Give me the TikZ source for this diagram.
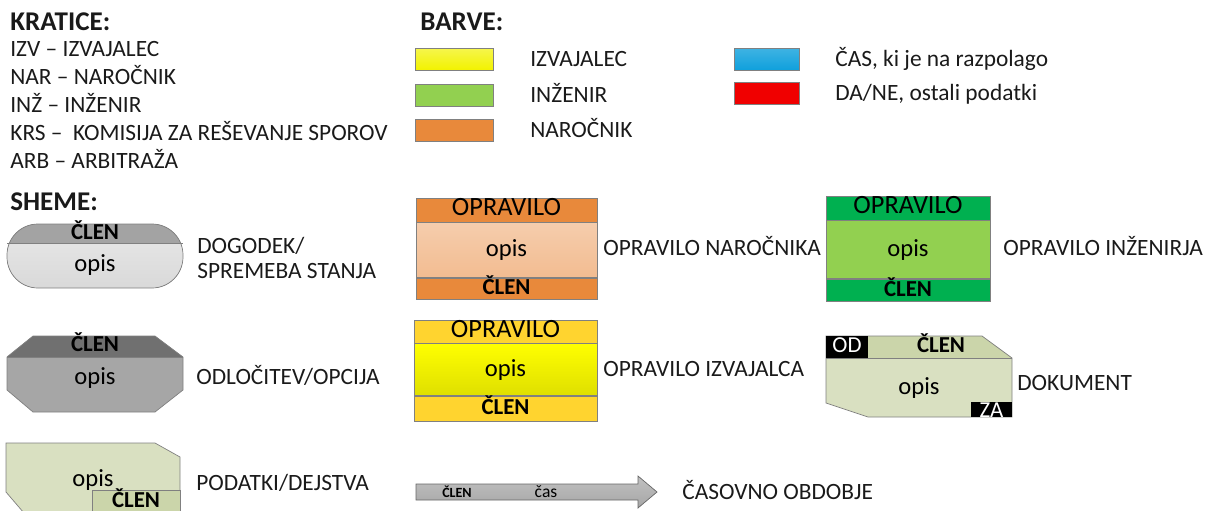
\documentclass[tikz,border=0pt]{standalone}
\usepackage{fontspec}
\setmainfont{Carlito}
\usepackage{tikz}
\usetikzlibrary{positioning}

\definecolor{izvband}{HTML}{FFD42F}
\definecolor{izvmid}{HTML}{F2F200}
\definecolor{injband}{HTML}{00B050}
\definecolor{injmid}{HTML}{92D050}
\definecolor{narband}{HTML}{E8893B}
\definecolor{narmid}{HTML}{F2BC91}
\definecolor{casblue}{HTML}{0FA0DC}
\definecolor{dared}{HTML}{F00000}
\definecolor{evtop}{HTML}{A3A3A3}
\definecolor{evbody}{HTML}{D9D9D9}
\definecolor{dectop}{HTML}{707070}
\definecolor{decbody}{HTML}{A6A6A6}
\definecolor{docfill}{HTML}{D9E0C1}
\definecolor{docband}{HTML}{CBD5AA}
\definecolor{edge}{HTML}{808080}
\definecolor{crnilo}{HTML}{1A1A1A}

\tikzstyle{naslov} = [font=\fontsize{15.4}{17}\selectfont\bfseries, text=crnilo, anchor=base west, inner sep=0pt]
\tikzstyle{besedilo} = [font=\fontsize{13.3}{15}\selectfont, text=crnilo, anchor=base west, inner sep=0pt]
\tikzstyle{barva} = [rectangle, draw=edge, minimum width=1.56cm, minimum height=0.44cm, inner sep=0pt]
\tikzstyle{pas} = [rectangle, draw=edge, inner sep=0pt, text height=0.64em, text depth=0pt]
\tikzstyle{opravilo} = [pas, font=\fontsize{15}{17}\selectfont]
\tikzstyle{clen} = [font=\fontsize{13}{15}\selectfont\bfseries, inner sep=0pt, text height=0.64em, text depth=0pt]
\tikzstyle{opis} = [font=\fontsize{14}{16}\selectfont, inner sep=0pt]
\tikzstyle{crno} = [font=\fontsize{13}{15}\selectfont, text=white, inner sep=0pt, text height=0.64em, text depth=0pt]

\begin{document}
\begin{tikzpicture}[x=0.02cm, y=-0.02cm]
  \clip (0,0) rectangle (1205,511);

  \node (kratice) [naslov] at (10,30) {KRATICE:};
  \node (kIzv) [besedilo] at (10,56) {IZV – IZVAJALEC};
  \node (kNar) [besedilo] at (10,84) {NAR – NAROČNIK};
  \node (kInz) [besedilo] at (10,112) {INŽ – INŽENIR};
  \node (kKrs) [besedilo] at (10,140) {KRS – \ KOMISIJA ZA REŠEVANJE SPOROV};
  \node (kArb) [besedilo] at (10,168) {ARB – ARBITRAŽA};

  \node (barve) [naslov] at (420,30) {BARVE:};
  \node (bIzv) [barva, top color=izvmid!70!white, bottom color=izvmid] at (454,59) {};
  \node (bInz) [barva, fill=injmid] at (454,95) {};
  \node (bNar) [barva, fill=narband] at (454,130) {};
  \node (bCas) [barva, minimum width=1.3cm, top color=casblue!80!white, bottom color=casblue] at (767,59) {};
  \node (bDa) [barva, minimum width=1.3cm, fill=dared] at (767,93) {};
  \node (lIzv) [besedilo] at (530,66) {IZVAJALEC};
  \node (lInz) [besedilo] at (530,102) {INŽENIR};
  \node (lNar) [besedilo] at (530,137) {NAROČNIK};
  \node (lCas) [besedilo] at (835,66) {ČAS, ki je na razpolago};
  \node (lDa) [besedilo] at (835,100) {DA/NE, ostali podatki};

  \node (sheme) [naslov] at (10,210) {SHEME:};

  \begin{scope}
    \clip[rounded corners=0.62cm] (7,224) rectangle (183,288);
    \fill[top color=evbody!60!white, bottom color=evbody] (7,224) rectangle (183,288);
    \fill[evtop] (7,224) rectangle (183,243);
  \end{scope}
  \draw[edge] (7,243) -- (183,243);
  \draw[edge, rounded corners=0.62cm] (7,224) rectangle (183,288);
  \node (dogClen) [clen] at (95,234) {ČLEN};
  \node (dogOpis) [opis] at (95,265) {opis};
  \node (dogodek) [besedilo] at (197,253) {DOGODEK/};
  \node (stanje) [besedilo] at (197,278) {SPREMEBA STANJA};

  \node (narNaslov) [opravilo, fill=narband, minimum width=3.62cm, minimum height=0.48cm] at (506.5,210) {OPRAVILO};
  \node (narOpis) [pas, opis, top color=narmid!75!white, bottom color=narmid, minimum width=3.62cm, minimum height=1.1cm, below=0pt of narNaslov, text height=, text depth=] {opis};
  \node (narClen) [pas, clen, fill=narband, minimum width=3.62cm, minimum height=0.42cm, below=0pt of narOpis] {ČLEN};
  \node (narocnik) [besedilo] at (603,255) {OPRAVILO NAROČNIKA};

  \node (injNaslov) [opravilo, fill=injband, minimum width=3.28cm, minimum height=0.48cm] at (908,208) {OPRAVILO};
  \node (injOpis) [pas, opis, fill=injmid, minimum width=3.28cm, minimum height=1.16cm, below=0pt of injNaslov, text height=, text depth=] {opis};
  \node (injClen) [pas, clen, fill=injband, minimum width=3.28cm, minimum height=0.44cm, below=0pt of injOpis] {ČLEN};
  \node (inzenir) [besedilo] at (1003,255) {OPRAVILO INŽENIRJA};

  \fill[decbody] (33,336) -- (155,336) -- (183,357) -- (183,390) -- (155,412) -- (33,412) -- (7,390) -- (7,357) -- cycle;
  \fill[dectop] (33,336) -- (155,336) -- (183,357) -- (7,357) -- cycle;
  \draw[edge] (7,357) -- (183,357);
  \draw[edge] (33,336) -- (155,336) -- (183,357) -- (183,390) -- (155,412) -- (33,412) -- (7,390) -- (7,357) -- cycle;
  \node (odlClen) [clen] at (95,346) {ČLEN};
  \node (odlOpis) [opis] at (95,378) {opis};
  \node (odlocitev) [besedilo] at (196,384) {ODLOČITEV/OPCIJA};

  \node (izvNaslov) [opravilo, fill=izvband, minimum width=3.66cm, minimum height=0.46cm] at (505.5,331.5) {OPRAVILO};
  \node (izvOpis) [pas, opis, top color=yellow, bottom color=izvmid!92!black, minimum width=3.66cm, minimum height=1.04cm, below=0pt of izvNaslov, text height=, text depth=] {opis};
  \node (izvClen) [pas, clen, fill=izvband, minimum width=3.66cm, minimum height=0.5cm, below=0pt of izvOpis] {ČLEN};
  \node (izvajalec) [besedilo] at (603,376) {OPRAVILO IZVAJALCA};

  \fill[docfill] (826,336) -- (982,336) -- (1012,358) -- (1012,417) -- (868,417) -- (826,403) -- cycle;
  \fill[docband] (868,336) -- (982,336) -- (1012,358) -- (868,358) -- cycle;
  \draw[edge] (826,358) -- (1012,358);
  \draw[edge] (826,336) -- (982,336) -- (1012,358) -- (1012,417) -- (868,417) -- (826,403) -- cycle;
  \fill[black] (826,336) rectangle (868,358);
  \fill[black] (971,402) rectangle (1012,417);
  \node (docOd) [crno] at (847,347) {OD};
  \node (docClen) [clen] at (941,347) {ČLEN};
  \node (docOpis) [opis] at (919,388) {opis};
  \node (docZa) [crno] at (991.5,412) {ZA};
  \node (dokument) [besedilo] at (1017,390) {DOKUMENT};

  \fill[docfill] (6,443) -- (155,443) -- (180,457) -- (180,520) -- (30,520) -- (6,492) -- cycle;
  \draw[edge] (6,443) -- (155,443) -- (180,457) -- (180,520) -- (30,520) -- (6,492) -- cycle;
  \draw[edge, fill=docband] (92,490) rectangle (180,520);
  \node (podOpis) [opis] at (93,480) {opis};
  \node (podClen) [clen] at (136,502) {ČLEN};
  \node (podatki) [besedilo] at (196,490) {PODATKI/DEJSTVA};

  \draw[edge!80!black, top color=decbody!70!white, bottom color=decbody] (416,484) -- (638,484) -- (638,476) -- (657,492) -- (638,508) -- (638,500) -- (416,500) -- cycle;
  \node (casClen) [font=\fontsize{8}{9}\selectfont\bfseries, inner sep=0pt] at (457,492) {ČLEN};
  \node (casCas) [font=\fontsize{10}{12}\selectfont, inner sep=0pt] at (546,492) {čas};
  \node (obdobje) [besedilo] at (682,499) {ČASOVNO OBDOBJE};
\end{tikzpicture}
\end{document}
